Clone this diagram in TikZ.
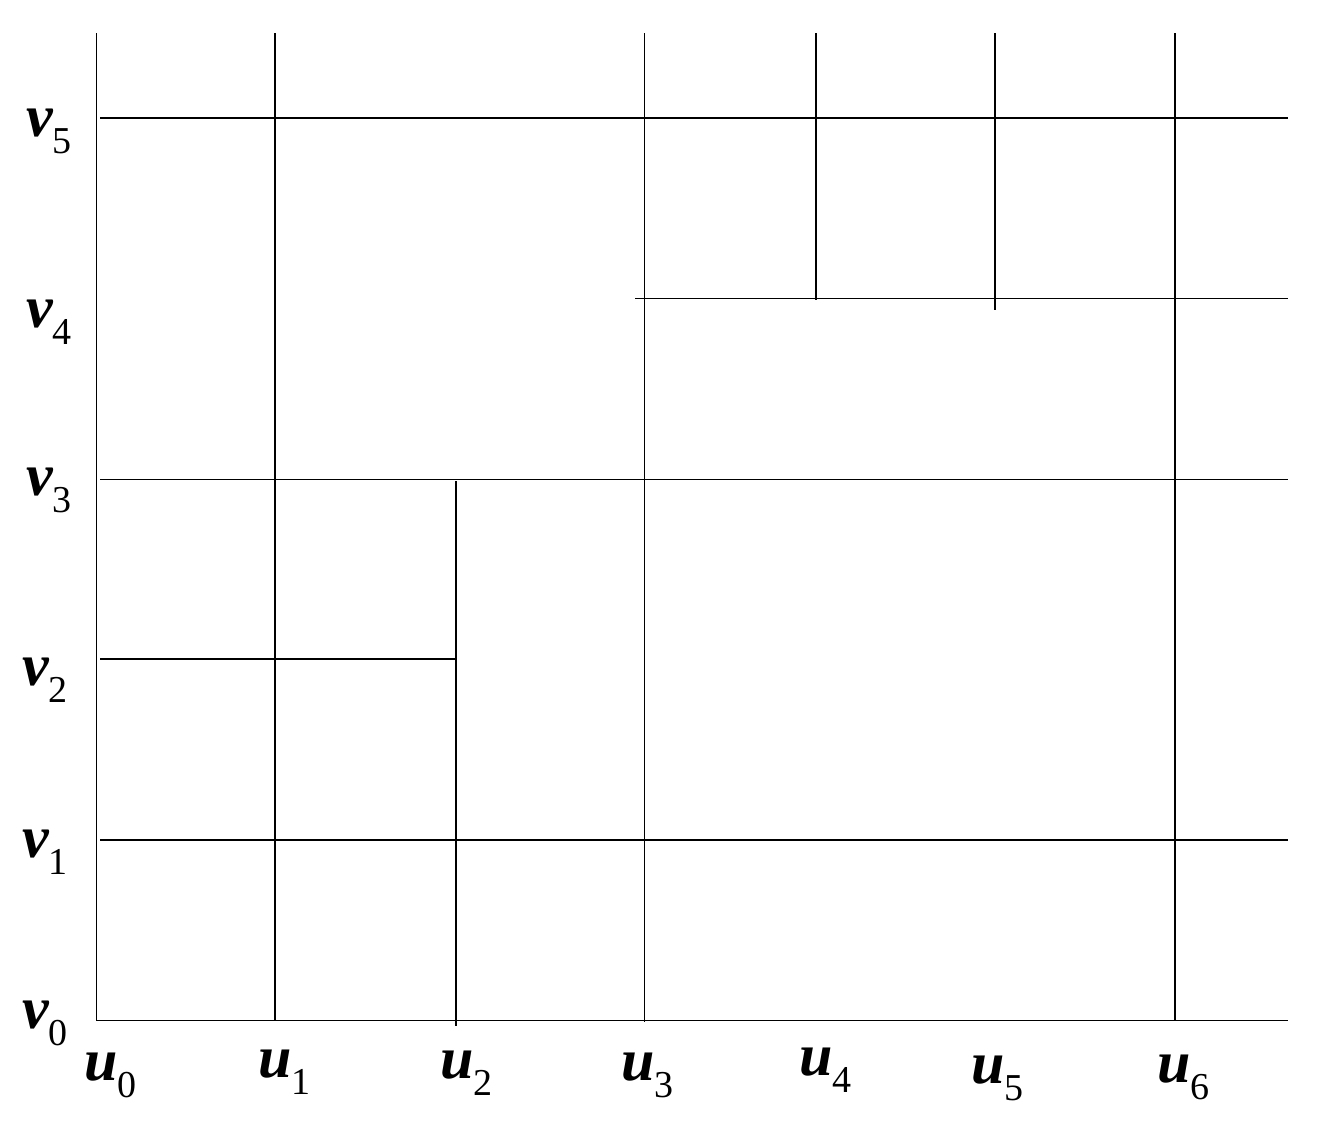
\documentclass[tikz,border=0pt]{standalone}
\usepackage{fontspec}
\setmainfont{Liberation Serif}
\newcommand{\lab}[2]{{\fontsize{60}{60}\selectfont\bfseries\itshape #1}\raisebox{-17pt}{\fontsize{38}{38}\selectfont #2}}
\begin{document}
\begin{tikzpicture}[x=1pt,y=-1pt,
  gl/.style={line width=1.6pt,black},
  thin/.style={line width=1pt,black},
  thick/.style={line width=2.4pt,black},
  lbl/.style={anchor=base west,inner sep=0pt,outer sep=0pt}]
\useasboundingbox (0,0) rectangle (1323,1122);
% coordinates
\coordinate (ax0) at (96,33);
\coordinate (ax1) at (96,1020);
\coordinate (bx1) at (1288,1020);
\draw[thin] (ax0) -- (ax1) -- (bx1);
% horizontals
\coordinate (h5a) at (100,118); \coordinate (h5b) at (1288,118);
\coordinate (h4a) at (635,298); \coordinate (h4b) at (1288,298);
\coordinate (h3a) at (100,479); \coordinate (h3b) at (1288,479);
\coordinate (h2a) at (100,659); \coordinate (h2b) at (456,659);
\coordinate (h1a) at (100,840); \coordinate (h1b) at (1288,840);
\draw[gl] (h5a) -- (h5b);
\draw[thin] (h4a) -- (h4b);
\draw[thin] (h3a) -- (h3b);
\draw[gl] (h2a) -- (h2b);
\draw[gl] (h1a) -- (h1b);
% verticals
\coordinate (u1a) at (275,33); \coordinate (u1b) at (275,1020);
\coordinate (u2a) at (456,481); \coordinate (u2b) at (456,1026);
\coordinate (u3a) at (644,33); \coordinate (u3b) at (644,1022);
\coordinate (u4a) at (816,33); \coordinate (u4b) at (816,300);
\coordinate (u5a) at (995,33); \coordinate (u5b) at (995,310);
\coordinate (u6a) at (1175,33); \coordinate (u6b) at (1175,1020);
\draw[gl] (u1a) -- (u1b);
\draw[thick] (u2a) -- (u2b);
\draw[thin] (u3a) -- (u3b);
\draw[gl] (u4a) -- (u4b);
\draw[gl] (u5a) -- (u5b);
\draw[gl] (u6a) -- (u6b);
% labels
\node[lbl] (v5) at (26,136) {\lab{v}{5}};
\node[lbl] (v4) at (26,327) {\lab{v}{4}};
\node[lbl] (v3) at (26,495) {\lab{v}{3}};
\node[lbl] (v2) at (22,685) {\lab{v}{2}};
\node[lbl] (v1) at (22,857) {\lab{v}{1}};
\node[lbl] (v0) at (22,1028) {\lab{v}{0}};
\node[lbl] (u0) at (84,1080) {\lab{u}{0}};
\node[lbl] (u1) at (258,1077) {\lab{u}{1}};
\node[lbl] (u2) at (440,1078) {\lab{u}{2}};
\node[lbl] (u3) at (621,1080) {\lab{u}{3}};
\node[lbl] (u4) at (799,1075) {\lab{u}{4}};
\node[lbl] (u5) at (971,1083) {\lab{u}{5}};
\node[lbl] (u6) at (1157,1082) {\lab{u}{6}};
\end{tikzpicture}
\end{document}
